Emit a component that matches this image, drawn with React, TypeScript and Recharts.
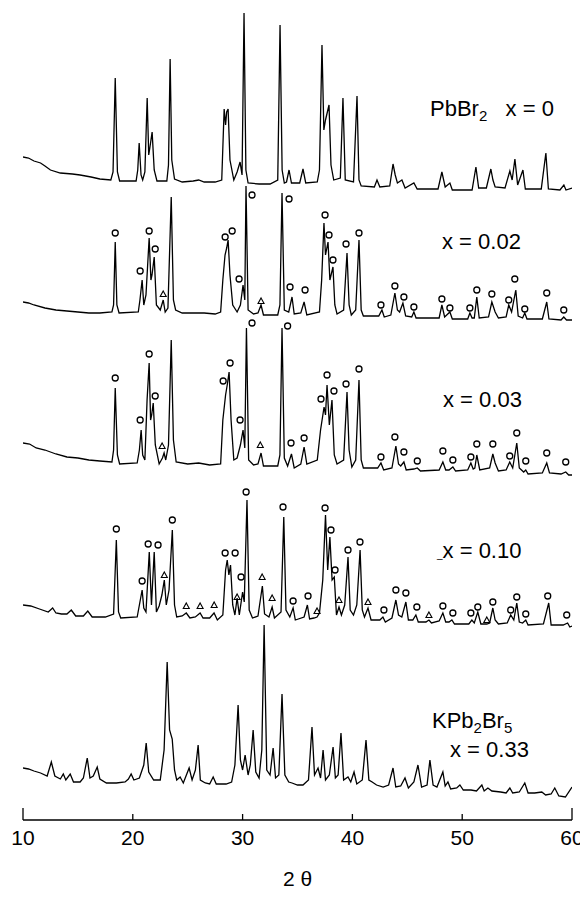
import React from 'react';
import { ComposedChart, Line, Scatter, XAxis, YAxis } from 'recharts';

type Pt = [number, number];

const ticks2Theta = [10, 20, 30, 40, 50, 60];

// [2θ, stacked intensity], one list per pattern
const pbbr2: Pt[] = [
  [10.0, 663], [10.5, 662], [11.0, 659], [11.6, 657], [12.0, 654], [12.5, 650], [13.4, 647], [14.5, 646],
  [15.2, 645], [16.2, 643], [17.0, 641], [18.0, 640], [18.2, 648], [18.4, 742], [18.6, 648], [18.8, 639],
  [20.3, 639], [20.45, 650], [20.58, 677], [20.75, 645], [20.9, 640], [21.1, 648], [21.31, 722], [21.45, 665],
  [21.55, 672], [21.76, 688], [21.95, 650], [22.2, 639], [23.1, 639], [23.25, 655], [23.4, 761], [23.55, 660],
  [23.8, 641], [24.5, 638], [25.5, 639], [26.0, 640], [26.5, 638], [27.5, 638], [28.1, 640], [28.32, 711],
  [28.45, 695], [28.55, 708], [28.68, 711], [28.85, 660], [29.2, 640], [29.5, 648], [29.77, 658], [29.95, 645],
  [30.13, 807], [30.3, 650], [30.5, 637], [31.5, 636], [32.5, 636], [33.2, 640], [33.41, 795], [33.6, 650],
  [33.8, 637], [34.0, 638], [34.23, 650], [34.45, 637], [35.2, 637], [35.5, 651], [35.75, 637], [36.8, 638],
  [37.0, 650], [37.23, 775], [37.4, 690], [37.55, 700], [37.87, 715], [38.05, 655], [38.3, 640], [38.9, 642],
  [39.14, 722], [39.35, 640], [40.1, 638], [40.42, 724], [40.6, 640], [40.8, 634], [42.0, 633], [42.24, 640],
  [42.5, 633], [43.4, 634], [43.7, 656], [43.9, 645], [44.1, 637], [44.51, 640], [44.8, 632], [45.6, 637],
  [45.9, 631], [47.8, 631], [48.15, 648], [48.45, 633], [48.88, 637], [49.1, 630], [50.9, 630], [51.25, 653],
  [51.5, 632], [52.2, 632], [52.61, 651], [52.8, 640], [53.0, 633], [53.9, 632], [54.34, 649], [54.55, 640],
  [54.8, 661], [55.05, 635], [55.53, 650], [55.75, 631], [57.2, 631], [57.62, 667], [57.85, 631], [58.9, 630],
  [59.26, 635], [59.45, 630], [60.0, 632],
];

const x002: Pt[] = [
  [10.0, 518], [10.5, 517], [11.0, 515], [12.0, 512], [13.0, 510], [14.0, 509], [15.0, 508], [16.0, 507],
  [17.0, 507], [18.1, 508], [18.25, 515], [18.4, 578], [18.55, 515], [18.75, 507], [20.5, 508], [20.65, 520],
  [20.85, 540], [21.0, 515], [21.2, 525], [21.49, 582], [21.65, 540], [21.75, 545], [21.95, 563], [22.15, 515],
  [22.5, 510], [22.77, 520], [22.95, 508], [23.2, 512], [23.5, 623], [23.7, 520], [23.9, 510], [24.5, 507],
  [25.5, 507], [26.5, 507], [27.5, 506], [28.0, 508], [28.2, 540], [28.4, 565], [28.55, 572], [28.68, 580],
  [28.85, 545], [29.1, 515], [29.5, 508], [29.8, 515], [30.04, 535], [30.2, 520], [30.31, 634], [30.5, 510],
  [31.0, 506], [31.4, 507], [31.68, 515], [31.9, 505], [33.2, 505], [33.4, 515], [33.59, 627], [33.8, 510],
  [34.2, 508], [34.5, 523], [34.7, 506], [35.3, 507], [35.6, 518], [35.85, 505], [37.0, 508], [37.2, 540],
  [37.41, 597], [37.55, 565], [37.78, 578], [37.95, 540], [38.23, 553], [38.4, 515], [38.6, 506], [39.2, 510],
  [39.51, 567], [39.7, 515], [39.9, 505], [40.3, 510], [40.6, 580], [40.8, 510], [41.0, 504], [42.4, 504],
  [42.69, 510], [42.9, 503], [43.5, 505], [43.87, 527], [44.1, 510], [44.3, 508], [44.6, 517], [44.85, 504],
  [45.4, 503], [45.6, 508], [45.8, 502], [47.9, 502], [48.15, 515], [48.4, 503], [48.88, 508], [49.1, 501],
  [50.5, 501], [50.7, 507], [50.9, 502], [51.1, 502], [51.33, 523], [51.55, 502], [52.4, 503], [52.7, 518],
  [53.0, 508], [53.3, 502], [54.0, 503], [54.24, 515], [54.5, 508], [54.88, 530], [55.1, 504], [55.5, 502],
  [55.7, 507], [55.9, 501], [57.3, 501], [57.7, 518], [57.9, 501], [59.0, 500], [59.25, 503], [59.5, 500],
  [60.0, 500],
];

const x003: Pt[] = [
  [10.0, 377], [10.6, 376], [11.2, 372], [12.0, 370], [13.0, 366], [14.0, 363], [15.0, 362], [16.0, 360],
  [17.0, 359], [18.1, 358], [18.25, 370], [18.4, 432], [18.6, 365], [18.8, 356], [20.4, 357], [20.6, 370],
  [20.76, 390], [20.9, 365], [21.1, 360], [21.3, 420], [21.49, 457], [21.62, 400], [21.72, 405], [21.86, 417],
  [22.05, 375], [22.4, 356], [22.7, 362], [22.85, 367], [23.0, 360], [23.25, 375], [23.5, 480], [23.7, 380],
  [23.95, 358], [25.0, 356], [26.0, 357], [27.0, 355], [28.0, 356], [28.2, 400], [28.45, 425], [28.6, 435],
  [28.77, 448], [28.95, 400], [29.2, 360], [29.5, 362], [29.8, 375], [30.04, 390], [30.2, 372], [30.35, 492],
  [30.55, 360], [31.0, 355], [31.4, 356], [31.68, 367], [31.9, 354], [33.2, 354], [33.4, 365], [33.59, 492],
  [33.8, 362], [34.1, 354], [34.45, 366], [34.7, 352], [35.3, 356], [35.6, 373], [35.85, 356], [36.8, 360],
  [37.1, 390], [37.42, 413], [37.55, 405], [37.69, 435], [37.9, 395], [38.14, 420], [38.35, 365], [38.6, 356],
  [39.2, 360], [39.51, 428], [39.7, 370], [39.95, 353], [40.3, 360], [40.6, 440], [40.8, 360], [41.0, 352],
  [42.3, 352], [42.6, 357], [42.85, 350], [43.6, 352], [43.96, 374], [44.2, 356], [44.4, 354], [44.69, 358],
  [44.9, 350], [45.6, 351], [45.91, 352], [46.2, 349], [47.9, 350], [48.24, 358], [48.5, 350], [48.8, 350],
  [49.15, 353], [49.4, 349], [50.5, 350], [50.79, 357], [51.0, 351], [51.15, 352], [51.33, 365], [51.6, 350],
  [52.5, 352], [52.79, 366], [53.0, 357], [53.3, 349], [54.0, 350], [54.33, 358], [54.6, 352], [54.97, 377],
  [55.2, 352], [55.6, 348], [55.79, 350], [56.0, 346], [57.3, 347], [57.7, 357], [57.95, 347], [59.0, 346],
  [59.43, 348], [59.7, 345], [60.0, 345],
];

const x010: Pt[] = [
  [10.0, 215], [10.7, 214], [11.5, 211], [12.3, 208], [12.7, 212], [13.0, 207], [13.5, 206], [14.0, 206],
  [14.4, 210], [14.8, 204], [15.5, 204], [15.9, 209], [16.3, 203], [17.5, 203], [18.25, 206], [18.5, 280],
  [18.7, 208], [18.9, 202], [20.4, 203], [20.6, 215], [20.85, 230], [21.0, 212], [21.2, 208], [21.5, 268],
  [21.7, 215], [21.95, 268], [22.15, 208], [22.4, 214], [22.65, 225], [22.87, 240], [23.05, 215], [23.3, 230],
  [23.6, 290], [23.8, 215], [24.0, 203], [24.5, 204], [24.87, 207], [25.2, 202], [25.7, 203], [26.13, 207],
  [26.4, 202], [27.0, 202], [27.4, 207], [27.7, 200], [28.2, 205], [28.45, 250], [28.6, 260], [28.75, 245],
  [28.9, 255], [29.1, 215], [29.3, 205], [29.5, 222], [29.7, 205], [30.0, 228], [30.15, 218], [30.4, 320],
  [30.6, 210], [30.9, 202], [31.4, 204], [31.8, 234], [32.0, 206], [32.4, 203], [32.69, 213], [32.9, 202],
  [33.5, 208], [33.75, 303], [33.95, 210], [34.3, 203], [34.6, 212], [34.8, 200], [35.6, 203], [35.9, 215],
  [36.1, 201], [36.5, 202], [36.78, 203], [37.0, 207], [37.3, 240], [37.55, 305], [37.75, 250], [37.95, 283],
  [38.15, 240], [38.35, 243], [38.55, 205], [38.78, 213], [39.0, 205], [39.3, 215], [39.6, 263], [39.8, 210],
  [40.1, 205], [40.4, 215], [40.7, 270], [40.9, 210], [41.1, 203], [41.42, 212], [41.7, 200], [42.5, 200],
  [42.78, 203], [43.0, 198], [43.6, 202], [43.96, 220], [44.2, 205], [44.5, 203], [44.87, 218], [45.1, 200],
  [45.5, 200], [45.78, 205], [46.0, 198], [46.7, 198], [46.97, 200], [47.2, 197], [47.9, 199], [48.24, 207],
  [48.5, 198], [48.8, 198], [49.06, 200], [49.3, 196], [50.6, 196], [50.88, 200], [51.1, 197], [51.42, 208],
  [51.7, 196], [52.24, 196], [52.5, 197], [52.79, 212], [53.0, 200], [53.3, 196], [54.1, 197], [54.42, 205],
  [54.7, 200], [54.97, 217], [55.2, 198], [55.5, 197], [55.79, 200], [56.0, 195], [57.4, 196], [57.88, 217],
  [58.1, 195], [59.2, 195], [59.6, 197], [59.8, 193], [60.0, 194],
];

const kpb2br5: Pt[] = [
  [10.0, 52], [10.5, 51], [11.0, 49], [11.6, 47], [12.2, 44], [12.58, 58], [12.9, 44], [13.4, 41],
  [13.67, 46], [13.9, 40], [14.3, 46], [14.6, 38], [15.2, 38], [15.5, 42], [15.85, 62], [16.1, 42],
  [16.4, 44], [16.76, 53], [17.0, 41], [17.6, 37], [18.5, 37], [19.3, 38], [19.6, 41], [19.85, 46],
  [20.1, 40], [20.6, 42], [21.0, 55], [21.22, 77], [21.45, 48], [21.9, 40], [22.5, 40], [22.85, 70],
  [23.13, 158], [23.35, 90], [23.59, 81], [23.8, 50], [24.0, 40], [24.31, 43], [24.6, 37], [25.13, 52],
  [25.4, 40], [25.7, 50], [25.95, 75], [26.15, 40], [26.6, 37], [27.0, 36], [27.32, 43], [27.6, 36],
  [28.5, 36], [29.0, 38], [29.3, 55], [29.59, 115], [29.8, 60], [30.0, 50], [30.23, 65], [30.5, 45],
  [30.7, 55], [30.96, 90], [31.2, 48], [31.5, 42], [31.75, 70], [31.96, 195], [32.2, 50], [32.5, 45],
  [32.78, 72], [33.0, 42], [33.3, 45], [33.59, 126], [33.85, 45], [34.2, 38], [34.5, 37], [35.0, 35],
  [35.5, 35], [36.0, 40], [36.32, 93], [36.55, 45], [36.87, 52], [37.1, 42], [37.33, 70], [37.55, 40],
  [37.9, 45], [38.24, 73], [38.45, 42], [38.7, 45], [38.96, 87], [39.2, 40], [39.6, 43], [39.85, 38],
  [40.15, 48], [40.4, 36], [40.9, 40], [41.24, 80], [41.5, 40], [41.8, 38], [42.2, 35], [42.8, 33],
  [43.3, 35], [43.7, 52], [43.95, 33], [44.4, 34], [44.79, 42], [45.1, 32], [45.6, 38], [45.97, 55],
  [46.3, 33], [46.8, 35], [47.06, 60], [47.35, 35], [47.7, 33], [48.24, 48], [48.45, 34], [48.7, 38],
  [48.95, 31], [49.5, 32], [49.79, 35], [50.1, 30], [50.8, 30], [51.3, 29], [51.79, 35], [52.0, 29],
  [52.34, 32], [52.7, 29], [53.5, 28], [54.0, 27], [54.34, 32], [54.6, 27], [55.2, 28], [55.7, 37],
  [56.0, 27], [56.6, 27], [57.25, 28], [57.6, 25], [58.1, 26], [58.43, 32], [58.8, 24], [59.4, 23],
  [60.0, 33],
];

// peak markers: o = second phase lines, triangle = minor phase
const circles002: Pt[] = [
  [18.4, 587], [20.67, 549], [21.49, 589], [22.04, 571], [28.41, 583], [29.05, 589], [29.68, 541],
  [30.86, 625], [34.23, 621], [34.32, 533], [35.69, 530], [37.51, 605], [37.87, 585], [38.23, 560],
  [39.42, 576], [40.6, 587], [42.6, 515], [43.87, 534], [44.69, 523], [45.6, 513], [48.15, 521],
  [48.88, 512], [50.7, 512], [51.33, 530], [52.7, 526], [54.24, 520], [54.79, 541], [55.7, 511],
  [57.7, 527], [59.25, 510],
];
const triangles002: Pt[] = [[22.77, 526], [31.68, 519]];

const circles003: Pt[] = [
  [18.4, 442], [20.67, 400], [21.49, 466], [22.04, 424], [28.23, 439], [28.86, 457], [29.77, 400],
  [30.86, 497], [34.1, 494], [34.41, 377], [35.6, 382], [37.14, 421], [37.69, 445], [38.32, 429],
  [39.42, 436], [40.6, 451], [42.6, 363], [43.87, 383], [44.69, 368], [45.91, 359], [48.24, 369],
  [49.15, 360], [50.79, 363], [51.33, 376], [52.79, 376], [54.33, 364], [54.97, 387], [55.79, 359],
  [57.7, 367], [59.43, 358],
];
const triangles003: Pt[] = [[22.67, 374], [31.61, 375]];

const circles010: Pt[] = [
  [18.5, 291], [20.85, 239], [21.4, 276], [22.3, 275], [23.6, 300], [28.41, 267], [29.32, 267],
  [29.86, 243], [30.32, 328], [33.68, 313], [34.6, 219], [35.96, 224], [37.51, 312], [38.05, 290],
  [38.42, 250], [39.6, 270], [40.69, 278], [42.87, 210], [43.96, 230], [44.87, 227], [45.87, 213],
  [48.24, 214], [49.15, 207], [50.79, 207], [51.42, 213], [52.79, 218], [54.42, 210], [54.97, 223],
  [55.79, 206], [57.79, 224], [59.52, 205],
];
const triangles010: Pt[] = [
  [22.87, 245], [24.87, 214], [26.13, 214], [27.41, 215], [29.5, 223], [31.78, 243], [32.69, 222],
  [36.78, 209], [38.78, 220], [41.42, 218], [46.97, 205], [52.24, 200],
];

const toRows = (pts: Pt[]) => pts.map(([x, y]) => ({ x, y }));

const patterns = [pbbr2, x002, x003, x010, kpb2br5];
const circleRows = toRows([...circles002, ...circles003, ...circles010]);
const triangleRows = toRows([...triangles002, ...triangles003, ...triangles010]);

const font = 'Liberation Sans, Arial, sans-serif';

const Ring = (props: any) => {
  const { cx, cy } = props;
  if (cx == null || cy == null) return <g />;
  return <circle cx={cx} cy={cy} r={3} fill='none' stroke='#000' strokeWidth={1.3} />;
};

const Tri = (props: any) => {
  const { cx, cy } = props;
  if (cx == null || cy == null) return <g />;
  return (
    <path
      d={`M${cx},${cy - 3} L${cx + 3},${cy + 2.5} L${cx - 3},${cy + 2.5} Z`}
      fill='none'
      stroke='#000'
      strokeWidth={1.1}
    />
  );
};

const AxisTick = (props: any) => {
  const { x, y, payload } = props;
  const end = payload.value === 10 || payload.value === 60;
  return (
    <g>
      <line x1={x} x2={x} y1={y} y2={y - (end ? 12 : 6)} stroke='#000' strokeWidth={1.3} />
      <text x={x} y={y + 25} textAnchor='middle' fontSize={21} fill='#000' fontFamily={font}>
        {payload.value}
      </text>
    </g>
  );
};

const tag: React.CSSProperties = {
  position: 'absolute',
  fontFamily: font,
  fontSize: 22,
  lineHeight: '22px',
  color: '#000',
  whiteSpace: 'nowrap',
  transform: 'translateY(-50%)',
};
const sub: React.CSSProperties = { fontSize: 15, position: 'relative', top: 5 };

const App: React.FC = () => {
  return (
    <div style={{ position: 'relative', width: 580, height: 882 }}>
      <ComposedChart width={580} height={882} margin={{ top: 0, right: 16, bottom: 0, left: 15 }}>
        <XAxis
          type='number'
          dataKey='x'
          domain={[10, 60]}
          ticks={ticks2Theta}
          allowDataOverflow
          height={70}
          tickSize={0}
          tickMargin={0}
          tickLine={false}
          axisLine={{ stroke: '#000', strokeWidth: 1.6 }}
          tick={<AxisTick />}
          label={{ value: '2 θ', position: 'insideBottom', offset: 4, fill: '#000', fontSize: 21, fontFamily: font }}
        />
        <YAxis hide type='number' dataKey='y' domain={[0, 812]} allowDataOverflow />
        {patterns.map((p, i) => (
          <Line
            key={i}
            data={toRows(p)}
            dataKey='y'
            type='linear'
            stroke='#000'
            strokeWidth={1.3}
            dot={false}
            isAnimationActive={false}
          />
        ))}
        <Scatter data={circleRows} dataKey='y' shape={Ring} isAnimationActive={false} />
        <Scatter data={triangleRows} dataKey='y' shape={Tri} isAnimationActive={false} />
      </ComposedChart>
      <div style={{ ...tag, left: 422, top: 102 }}>
        PbBr<span style={sub}>2</span>&nbsp;&nbsp;&nbsp;x = 0
      </div>
      <div style={{ ...tag, left: 434, top: 234 }}>x = 0.02</div>
      <div style={{ ...tag, left: 435, top: 392 }}>x = 0.03</div>
      <div style={{ ...tag, left: 429, top: 545 }}>
        <span style={{ fontSize: 10 }}>_</span>x = 0.10
      </div>
      <div style={{ ...tag, left: 424, top: 714 }}>
        KPb<span style={sub}>2</span>Br<span style={sub}>5</span>
      </div>
      <div style={{ ...tag, left: 442, top: 742 }}>x = 0.33</div>
    </div>
  );
};

export default App;
